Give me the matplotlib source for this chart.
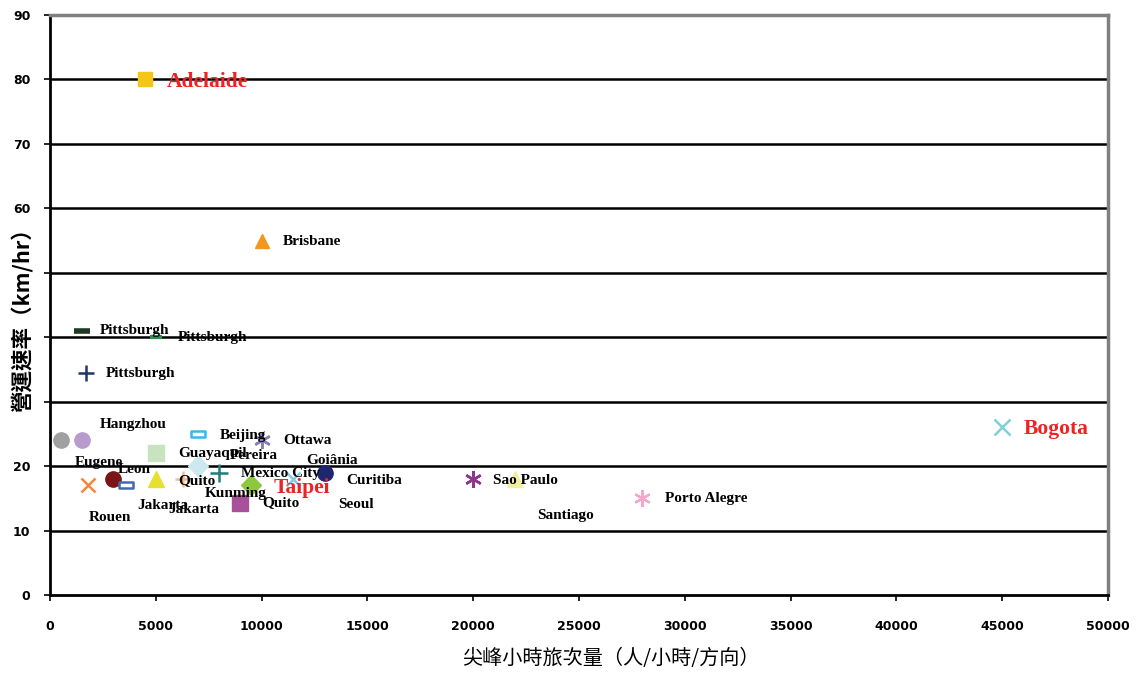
import matplotlib
matplotlib.use("Agg")
import matplotlib.pyplot as plt
from matplotlib.path import Path

# ---- data: peak-hour ridership (pax/hr/direction) vs. operating speed (km/hr)
cities = ["Adelaide", "Brisbane", "Pittsburgh", "Pittsburgh", "Pittsburgh",
          "Eugene", "Hangzhou", "Rouen", "Leon", "Jakarta", "Jakarta",
          "Guayaquil", "Beijing", "Pereira", "Quito", "Mexico City",
          "Kunming", "Quito", "Ottawa", "Taipei", "Goiânia", "Sao Paulo",
          "Santiago", "Porto Alegre", "Bogota"]
ridership = [4500, 10000, 1500, 5000, 1700,
             500, 1500, 1800, 3000, 3600, 5000,
             5000, 7000, 7000, 6300, 8000,
             9500, 9000, 10000, 11500, 13000, 20000,
             22000, 28000, 45000]
speed = [80, 55, 41, 40, 34.5,
         24, 24, 17, 18, 17, 18,
         22, 25, 20, 18, 19,
         17, 14.3, 24, 18, 19, 18,
         18, 15, 26]

x_ticks = list(range(0, 50001, 5000))
y_ticks = list(range(0, 91, 10))
# the axis title covers the 30-50 tick labels
y_tick_labels = ["0", "10", "20", "", "", "", "60", "70", "80", "90"]
x_title = "尖峰小時旅次量（人/小時/方向）"
y_title = "營運速率（km/hr）"

# ---- marker styles (one per point)
rect = Path([(-1, -0.45), (1, -0.45), (1, 0.45), (-1, 0.45), (-1, -0.45)],
            [Path.MOVETO, Path.LINETO, Path.LINETO, Path.LINETO, Path.CLOSEPOLY])
styles = [
    dict(marker="s", color="#F5C518", ms=10),
    dict(marker="^", color="#F4961E", ms=10),
    dict(marker="_", color="#1E3A22", ms=11, mew=4),
    dict(marker="_", color="#2E8B57", ms=8, mew=3),
    dict(marker="+", color="#1F3864", ms=11, mew=1.8),
    dict(marker="o", color="#A0A0A0", ms=11),
    dict(marker="o", color="#B79CCB", ms=11),
    dict(marker="x", color="#F4873A", ms=10, mew=1.8),
    dict(marker="o", color="#7B1416", ms=11),
    dict(marker=rect, color="#4169B0", ms=10, mew=1.8, mfc="white"),
    dict(marker="^", color="#E8E030", ms=11),
    dict(marker="s", color="#C8E3C0", ms=12),
    dict(marker=rect, color="#3BB7E8", ms=10, mew=1.8, mfc="white"),
    dict(marker="D", color="#CDE8EE", ms=10),
    dict(marker="+", color="#F5C08A", ms=11, mew=1.8),
    dict(marker="+", color="#1F7F7F", ms=13, mew=1.8),
    dict(marker="D", color="#8DC63F", ms=10),
    dict(marker="s", color="#A8509A", ms=11),
    dict(marker=(6, 2, 0), color="#8A80B8", ms=12, mew=1.8),
    dict(marker="x", color="#8CC8E0", ms=10, mew=1.8),
    dict(marker="o", color="#1F2670", ms=11),
    dict(marker=(6, 2, 0), color="#8B3A8B", ms=12, mew=1.8),
    dict(marker="^", color="#F0F0A0", ms=11),
    dict(marker=(6, 2, 0), color="#F4A6CC", ms=12, mew=1.6),
    dict(marker="x", color="#7FD0D8", ms=12, mew=1.8),
]

# ---- label layout: (text, x, y, highlighted)
labels = [
    ("Adelaide", 5530, 79.6, True),
    ("Brisbane", 11010, 54.8, False),
    ("Pittsburgh", 2360, 41.1, False),
    ("Pittsburgh", 6050, 39.9, False),
    ("Pittsburgh", 2650, 34.3, False),
    ("Hangzhou", 2360, 26.4, False),
    ("Eugene", 1180, 20.6, False),
    ("Leon", 3210, 19.4, False),
    ("Rouen", 1840, 12.1, False),
    ("Jakarta", 4110, 13.9, False),
    ("Jakarta", 5580, 13.2, False),
    ("Quito", 6050, 17.8, False),
    ("Guayaquil", 6050, 21.9, False),
    ("Pereira", 8500, 21.7, False),
    ("Beijing", 8030, 24.8, False),
    ("Ottawa", 11010, 23.9, False),
    ("Mexico City", 9030, 18.9, False),
    ("Kunming", 7330, 15.8, False),
    ("Quito", 10020, 14.3, False),
    ("Taipei", 10590, 16.6, True),
    ("Goiânia", 12100, 20.8, False),
    ("Curitiba", 13990, 17.7, False),
    ("Seoul", 13610, 14.1, False),
    ("Sao Paulo", 20940, 17.8, False),
    ("Santiago", 23020, 12.4, False),
    ("Porto Alegre", 29070, 14.9, False),
    ("Bogota", 46030, 25.8, True),
]

fig = plt.figure(figsize=(11.38, 6.73), dpi=100)
ax = fig.add_axes([0.0439, 0.1159, 0.9297, 0.8618])
ax.set_xlim(0, 50000)
ax.set_ylim(0, 90)

for y in y_ticks[1:-1]:
    ax.axhline(y, color="black", lw=1.8, zorder=1)

for xv, yv, st in zip(ridership, speed, styles):
    st = dict(st)
    mk = st.pop("marker")
    col = st.pop("color")
    ms = st.pop("ms")
    mew = st.pop("mew", 1.0)
    mfc = st.pop("mfc", col)
    ax.plot([xv], [yv], linestyle="none", marker=mk, ms=ms, mew=mew,
            mec=col, mfc=mfc, zorder=3)

for text, lx, ly, hot in labels:
    if hot:
        ax.text(lx, ly, text, color="#EE2222", fontsize=15.5, fontweight="bold",
                family="Liberation Serif", ha="left", va="center", zorder=4)
    else:
        ax.text(lx, ly, text, color="black", fontsize=11, fontweight="bold",
                family="Liberation Serif", ha="left", va="center", zorder=4)

ax.set_xticks(x_ticks)
ax.set_yticks(y_ticks)
ax.set_xticklabels([str(v) for v in x_ticks])
ax.set_yticklabels(y_tick_labels)
ax.tick_params(axis="both", labelsize=9, length=4, width=1.2, direction="out")
ax.tick_params(axis="x", pad=14)
ax.tick_params(axis="y", pad=10)
for lab in ax.get_xticklabels() + ax.get_yticklabels():
    lab.set_fontweight("bold")

for side in ("left", "bottom"):
    ax.spines[side].set_color("black")
    ax.spines[side].set_linewidth(2)
for side in ("top", "right"):
    ax.spines[side].set_color("#808080")
    ax.spines[side].set_linewidth(2.5)

cjk = ["Noto Sans CJK TC", "DejaVu Sans"]
fig.text(0.537, 0.022, x_title, family=cjk, fontsize=14.5,
         ha="center", va="center")
fig.text(0.020, 0.532, y_title, family=cjk, fontsize=15.5, fontweight="bold",
         rotation=90, ha="center", va="center")

fig.savefig("out.png", dpi=100, facecolor="white")
